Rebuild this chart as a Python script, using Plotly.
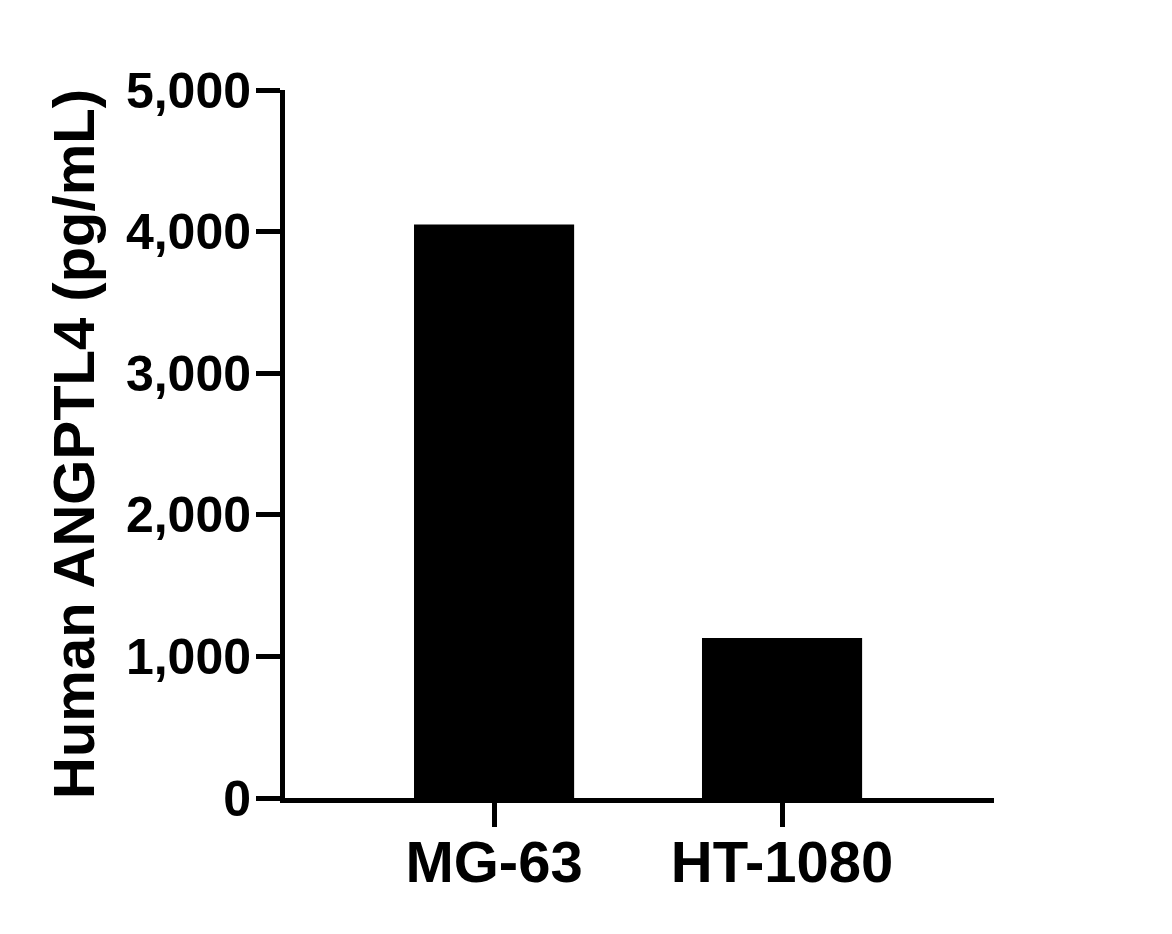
import plotly.graph_objects as go

cell_lines = ["MG-63", "HT-1080"]
angptl4 = [4050, 1130]
y_ticks = [0, 1000, 2000, 3000, 4000, 5000]

font = "Liberation Sans, Arial, sans-serif"

fig = go.Figure(
    go.Bar(
        x=cell_lines,
        y=angptl4,
        width=0.556,
        marker=dict(color="black", line=dict(width=0)),
    )
)

# page body adds ~8px offset, so margins are nudged to compensate
fig.update_layout(
    width=1172,
    height=934,
    margin=dict(l=277, r=186, t=82, b=144),
    paper_bgcolor="white",
    plot_bgcolor="white",
    showlegend=False,
    font=dict(family=font, color="black"),
)

fig.update_xaxes(
    type="category",
    range=[-0.726, 1.736],
    showline=True,
    linewidth=5,
    linecolor="black",
    ticks="outside",
    ticklen=24,
    tickwidth=5,
    tickcolor="black",
    tickfont=dict(size=58, family=font, weight="bold"),
    ticklabelstandoff=-15,
    showgrid=False,
    zeroline=False,
)

fig.update_yaxes(
    range=[0, 5000],
    tickvals=y_ticks,
    tickformat=",",
    showline=True,
    linewidth=5,
    linecolor="black",
    ticks="outside",
    ticklen=24,
    tickwidth=5,
    tickcolor="black",
    tickfont=dict(size=50, family=font, weight="bold"),
    ticklabelstandoff=-5,
    title=dict(
        text="Human ANGPTL4 (pg/mL)",
        font=dict(size=58, family=font, weight="bold"),
        standoff=14,
    ),
    showgrid=False,
    zeroline=False,
)

fig.write_html("out.html")
